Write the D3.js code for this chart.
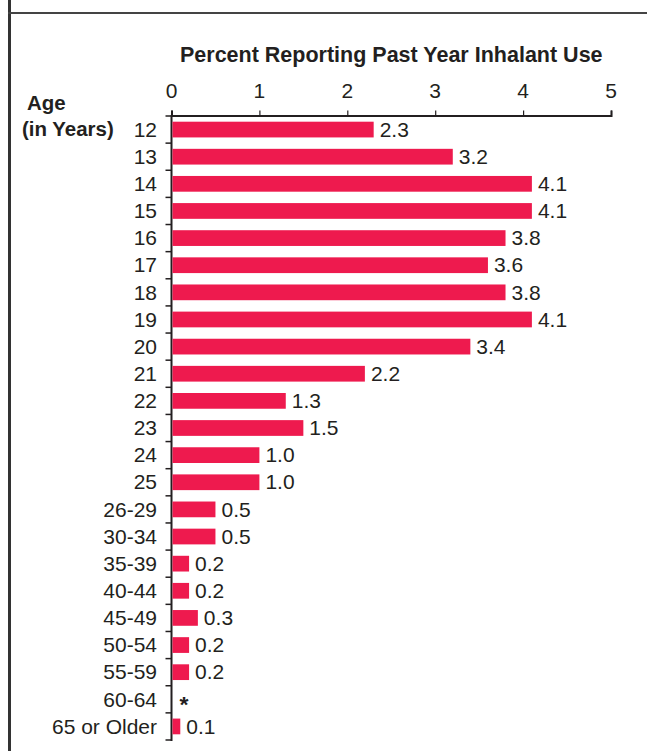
<!DOCTYPE html>
<html>
<head>
<meta charset="utf-8">
<script src="https://cdn.jsdelivr.net/npm/d3@7"></script>
<style>
  html, body { margin: 0; padding: 0; background: #fff; }
  svg { display: block; font-family: "Liberation Sans", Arial, Helvetica, sans-serif; }
</style>
</head>
<body>
<svg id="chart" width="647" height="751"></svg>
<script>
// Past-year inhalant use by age
const ages = ["12", "13", "14", "15", "16", "17", "18", "19", "20", "21", "22", "23", "24", "25",
  "26-29", "30-34", "35-39", "40-44", "45-49", "50-54", "55-59", "60-64", "65 or Older"];
const percents = [2.3, 3.2, 4.1, 4.1, 3.8, 3.6, 3.8, 4.1, 3.4, 2.2, 1.3, 1.5, 1.0, 1.0,
  0.5, 0.5, 0.2, 0.2, 0.3, 0.2, 0.2, null, 0.1];
const xTicks = [0, 1, 2, 3, 4, 5];
const titleText = "Percent Reporting Past Year Inhalant Use";
const yTitleLines = ["Age", "(in Years)"];
const suppressedMark = "*";

const rows = ages.map((a, i) => ({ age: a, value: percents[i] }));

const svg = d3.select("#chart");
const ink = "#231f20";
const barColor = "#ee1a4e";
const fs = 20;      // label font size
const sx = 1.05;    // horizontal stretch of the label type

const x = d3.scaleLinear().domain([0, 5]).range([171.5, 611]);
const y = d3.scaleBand().domain(ages).range([116, 740]).paddingInner(0.42).paddingOuter(0.21);
const cells = d3.scaleBand().domain(ages).range([116, 740]).padding(0);

// frame
svg.append("rect").attr("x", 8).attr("y", 0).attr("width", 3).attr("height", 751).attr("fill", "#333");
svg.append("rect").attr("x", 8).attr("y", 12).attr("width", 639).attr("height", 2).attr("fill", "#444");

function label(g, px, py, text, anchor, opts = {}) {
  return g.append("g").attr("transform", `translate(${px},${py})`)
    .append("text")
    .attr("transform", `scale(${opts.sx ?? sx},1)`)
    .attr("text-anchor", anchor)
    .attr("font-size", opts.size ?? fs)
    .attr("font-weight", opts.weight ?? "normal")
    .attr("fill", ink)
    .text(text);
}

// title
label(svg, (x(0) + x(5)) / 2, 62, titleText, "middle", { size: 21.5, weight: "bold", sx: 1 });

// top axis
const xAxis = d3.axisTop(x).tickValues(xTicks).tickSize(5).tickSizeOuter(5).tickFormat(d3.format("d"));
const gx = svg.append("g").attr("transform", "translate(0,115.5)").call(xAxis);
gx.select(".domain").attr("stroke", ink).attr("stroke-width", 2);
gx.selectAll(".tick line").attr("stroke", ink).attr("stroke-width", 1.2);
gx.selectAll(".tick text").remove();
xTicks.forEach(v => label(svg, x(v), 98, String(v), "middle"));

// left axis with ticks on the row boundaries
const gy = svg.append("g");
gy.append("line").attr("x1", x(0)).attr("x2", x(0)).attr("y1", 115).attr("y2", 741)
  .attr("stroke", ink).attr("stroke-width", 2);
const bounds = ages.map(a => cells(a)).concat([cells.range()[1]]);
gy.selectAll("line.tk").data(bounds).join("line").attr("class", "tk")
  .attr("x1", x(0) - 6).attr("x2", x(0))
  .attr("y1", d => d).attr("y2", d => d)
  .attr("stroke", ink).attr("stroke-width", 1.5);

// bars
svg.append("g").selectAll("rect").data(rows.filter(r => r.value != null)).join("rect")
  .attr("x", x(0) + 1)
  .attr("y", d => y(d.age))
  .attr("width", d => x(d.value) - x(0) - 1)
  .attr("height", y.bandwidth())
  .attr("fill", barColor);

// category and value labels
const gl = svg.append("g");
rows.forEach(r => {
  const cy = y(r.age) + y.bandwidth() / 2 + fs * 0.36;
  label(gl, 157, cy, r.age, "end");
  if (r.value != null) {
    label(gl, x(r.value) + 6, cy, r.value.toFixed(1), "start");
  } else {
    label(gl, x(0) + 8, cy + 5, suppressedMark, "start", { weight: "bold", size: 22 });
  }
});

// axis title on the left
label(svg, 27, 110, yTitleLines[0], "start", { weight: "bold", size: 19.5 });
label(svg, 22, 136, yTitleLines[1], "start", { weight: "bold", size: 19.5 });
</script>
</body>
</html>
